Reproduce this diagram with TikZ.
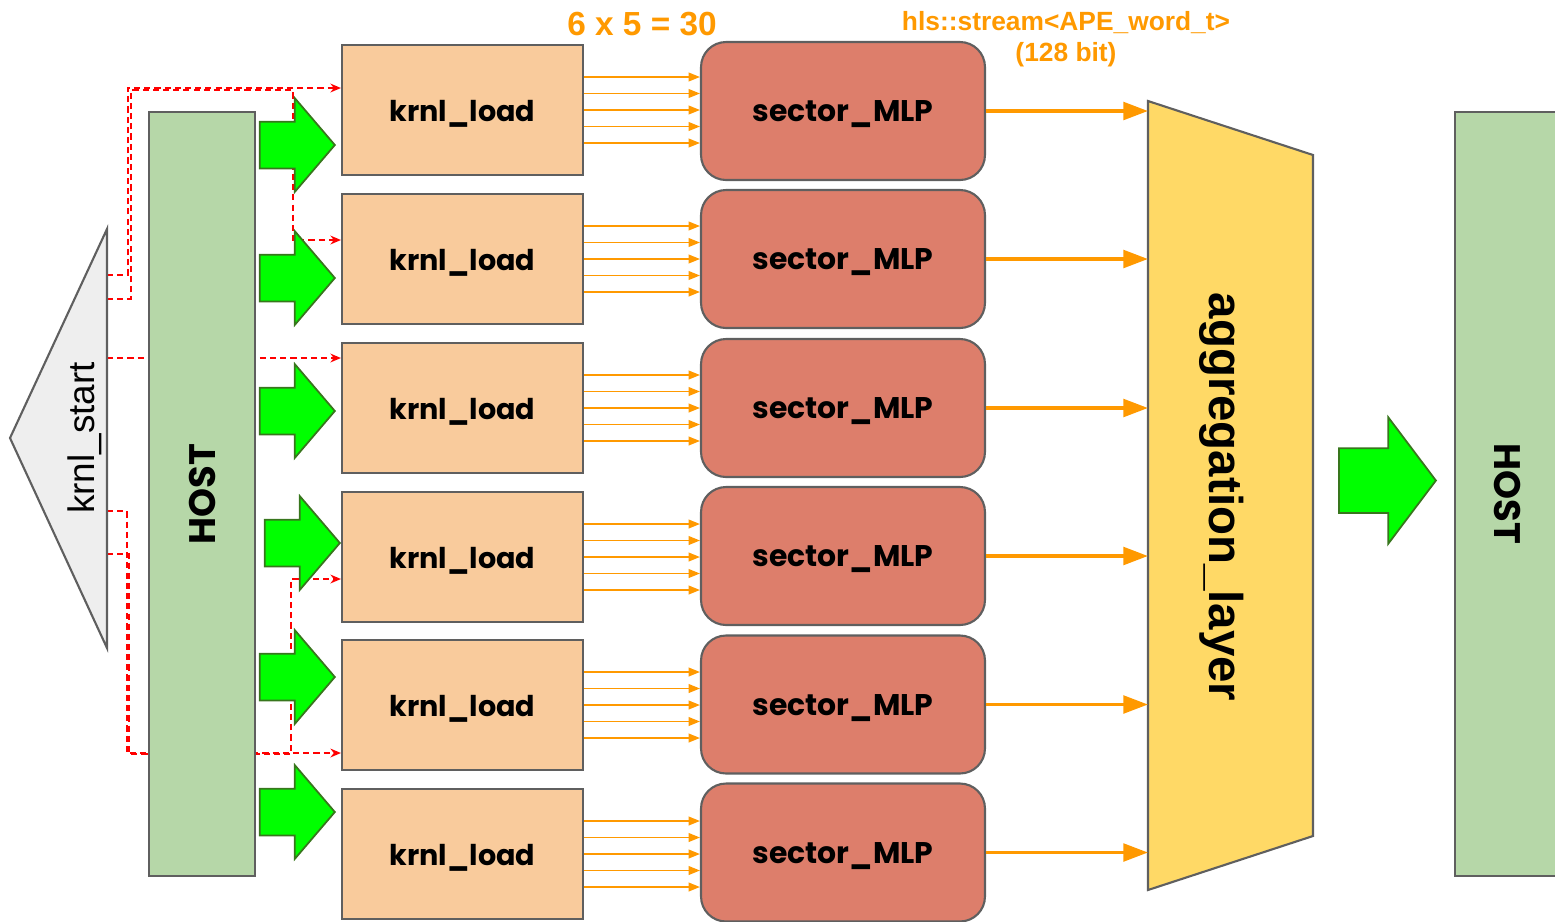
\documentclass[tikz,border=0pt]{standalone}
\usepackage{fontspec}
\setmainfont{Liberation Sans}
\newfontfamily\popp{Poppins}
\usetikzlibrary{shapes.arrows,arrows.meta,calc}
\definecolor{hostgreen}{HTML}{B6D7A8}
\definecolor{loadfill}{HTML}{F9CB9C}
\definecolor{mlpfill}{HTML}{DD7E6B}
\definecolor{aggfill}{HTML}{FFD966}
\definecolor{trifill}{HTML}{EEEEEE}
\definecolor{edgegray}{HTML}{5F5F5F}
\definecolor{sorange}{HTML}{FF9900}
\definecolor{bgreen}{HTML}{00FF00}
\definecolor{dgreen}{HTML}{38761D}
\newcommand{\lowtext}[1]{\raisebox{-2pt}[\height][\depth]{#1}}
\begin{document}
\begin{tikzpicture}[x=0.02cm,y=-0.02cm,
  hostbox/.style={draw=edgegray,line width=1.2pt,fill=hostgreen,minimum width=2.12cm,minimum height=15.28cm,inner sep=0},
  loadbox/.style={draw=edgegray,line width=1.2pt,fill=loadfill,minimum width=4.82cm,minimum height=2.6cm,inner sep=0,font=\popp\bfseries\fontsize{16.3}{20}\selectfont},
  mlpbox/.style={draw=edgegray,line width=1.2pt,fill=mlpfill,rounded corners=0.5cm,minimum width=5.68cm,minimum height=2.76cm,inner sep=0,font=\popp\bfseries\fontsize{17}{20}\selectfont},
  garrow/.style={shape=single arrow,draw=dgreen,line width=1pt,fill=bgreen,inner xsep=0pt,inner ysep=0.45cm,minimum height=1.5cm,single arrow head extend=0.47cm,single arrow tip angle=99,anchor=tip},
  thinarr/.style={draw=sorange,line width=0.9pt,-{Triangle[length=6.5pt,width=5pt]}},
  thickarr/.style={draw=sorange,line width=2pt,-{Triangle[length=14pt,width=10pt]}},
  ctrl/.style={draw=red,line width=1.1pt,dash pattern=on 3.5pt off 2.3pt,-{Stealth[length=6pt,width=5pt]}},
  toplabel/.style={text=sorange,font=\bfseries\fontsize{15}{18}\selectfont,inner sep=0}
]
\useasboundingbox (0,0) rectangle (1555,921);

% krnl_start triangle coordinates
\coordinate (triTop) at (107,229);
\coordinate (triTip) at (10,438);
\coordinate (triBot) at (107,648);

% krnl_load boxes
\foreach \i/\y in {1/110,2/259,3/408,4/557,5/705,6/854}{
  \node[loadbox] (load\i) at (462.5,\y) {\lowtext{krnl\_load}};
}

% red control (dashed) lines, drawn under HOST and green arrows
\coordinate (s1) at (107,275);
\coordinate (c1) at (128,88);
\coordinate (s2) at (107,299);
\coordinate (c2) at (131,90);
\coordinate (d2) at (293,240);
\coordinate (s3) at (107,358);
\coordinate (s4) at (107,511);
\coordinate (c4) at (127,753);
\coordinate (s5) at (107,554);
\coordinate (c5) at (129,754);
\coordinate (d5) at (291,579);
\draw[ctrl] (s1) -| (c1) -- (c1 -| load1.west);
\draw[ctrl] (s2) -| (c2) -| (d2) -- (d2 -| load2.west);
\draw[ctrl] (s3) -- (s3 -| load3.west);
\draw[ctrl] (s4) -| (c4) -- (c4 -| load5.west);
\draw[ctrl] (s5) -| (c5) -| (d5) -- (d5 -| load4.west);

% left HOST
\node[hostbox] (hostL) at (202,494) {};
\node[rotate=90,font=\popp\bfseries\fontsize{21}{24}\selectfont] at (hostL.center) {HOST};

% krnl_start triangle
\draw[draw=edgegray,line width=1.2pt,fill=trifill] (triTop) -- (triTip) -- (triBot) -- cycle;
\node[rotate=90,font=\fontsize{21}{24}\selectfont,inner sep=0] (kstart) at (85,438) {krnl\_start};

% green block arrows HOST -> krnl_load (placed by their tips)
\foreach \i/\x/\y in {1/336/145,2/336/278,3/336/411,4/341/543,5/336/677,6/336/812}{
  \node[garrow] (ga\i) at (\x,\y) {};
}

% sector_MLP boxes
\foreach \i/\y in {1/111,2/259,3/408,4/556,5/704.5,6/852.5}{
  \node[mlpbox] (mlp\i) at (843,\y) {\lowtext{sector\_MLP}};
}

% thin streams krnl_load -> sector_MLP
\foreach \i in {1,...,6}{
  \foreach \o in {-33,-16.5,0,16.5,33}{
    \draw[thinarr] ([yshift=-\o*0.02cm]load\i.east) -- ([yshift=-\o*0.02cm]load\i.east -| mlp\i.west);
  }
}

% aggregation layer
\coordinate (aggTL) at (1148,101);
\coordinate (aggTR) at (1313,155);
\coordinate (aggBR) at (1313,836);
\coordinate (aggBL) at (1148,890);
\draw[draw=edgegray,line width=1.2pt,fill=aggfill] (aggTL) -- (aggTR) -- (aggBR) -- (aggBL) -- cycle;
\node[rotate=-90,font=\bfseries\fontsize{27}{30}\selectfont,inner sep=0] (agg) at (1222,497) {aggregation\_layer};

% thick streams sector_MLP -> aggregation
\foreach \i in {1,...,6}{
  \draw[thickarr] (mlp\i.east) -- (mlp\i.east -| aggTL);
}

% right HOST
\node[hostbox,minimum width=2.1cm] (hostR) at (1507.5,494) {};
\node[rotate=-90,font=\popp\bfseries\fontsize{21}{24}\selectfont] at (hostR.center) {HOST};

% green arrow aggregation -> HOST
\node[garrow,inner ysep=0.63cm,single arrow head extend=0.62cm,minimum height=1.94cm,single arrow tip angle=106] (gaR) at (1437,480.5) {};

% labels
\node[toplabel,font=\bfseries\fontsize{19}{22}\selectfont] (lab30) at (642,24) {6 x 5 = 30};
\node[toplabel] (labstream) at (1066,23) {hls::stream<APE\_word\_t>};
\node[toplabel] (labbits) at (1066,55) {(128 bit)};
\end{tikzpicture}
\end{document}
